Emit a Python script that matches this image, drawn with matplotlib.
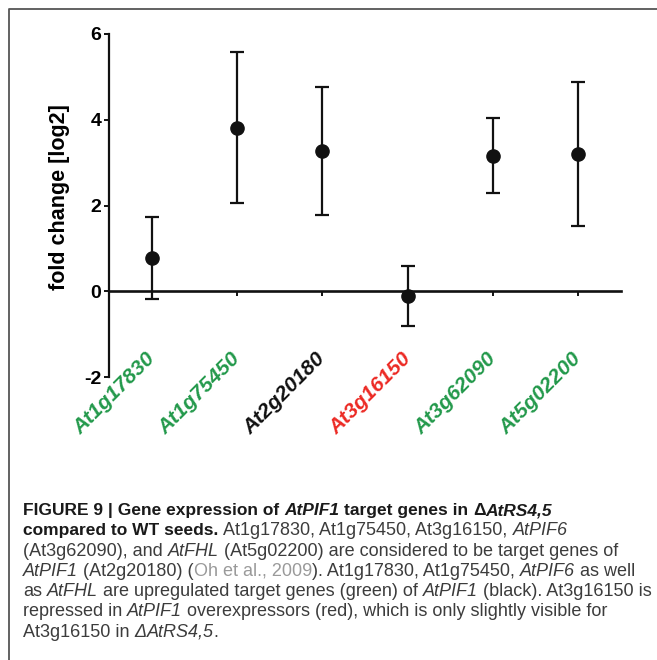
import matplotlib
matplotlib.use("Agg")
import matplotlib.pyplot as plt
import matplotlib.transforms as mtransforms
from matplotlib.lines import Line2D
import numpy as np

plt.rcParams["font.family"] = ["Liberation Sans", "DejaVu Sans"]

# Data
genes = ["At1g17830", "At1g75450", "At2g20180", "At3g16150", "At3g62090", "At5g02200"]
fold_change = [0.77, 3.81, 3.27, -0.11, 3.16, 3.20]
fold_err = [0.96, 1.76, 1.50, 0.71, 0.87, 1.68]
label_colors = ["#23994b", "#23994b", "#111111", "#ec2a24", "#23994b", "#23994b"]
y_ticks = [-2, 0, 2, 4, 6]

# Caption: one list of (text, style) runs per line
caption_lines = [
    [("FIGURE 9 | Gene expression of ", "b"), ("AtPIF1", "bi"),
     (" target genes in ", "b"), ("\u0394", "b"), ("AtRS4,5", "bi")],
    [("compared to WT seeds.", "b"), (" At1g17830, At1g75450, At3g16150, ", "r"),
     ("AtPIF6", "i")],
    [("(At3g62090), and ", "r"), ("AtFHL", "i"),
     (" (At5g02200) are considered to be target genes of", "r")],
    [("AtPIF1", "i"), (" (At2g20180) (", "r"), ("Oh et al., 2009", "link"),
     ("). At1g17830, At1g75450, ", "r"), ("AtPIF6", "i"), (" as well", "r")],
    [("as ", "r"), ("AtFHL", "i"), (" are upregulated target genes (green) of ", "r"),
     ("AtPIF1", "i"), (" (black). At3g16150 is", "r")],
    [("repressed in ", "r"), ("AtPIF1", "i"),
     (" overexpressors (red), which is only slightly visible for", "r")],
    [("At3g16150 in ", "r"), ("\u0394", "i"), ("AtRS4,5", "i"), (".", "r")],
]

STYLES = {
    "b": dict(fontweight="bold", color="#1a1a1a", fontsize=12.5),
    "bi": dict(fontweight="bold", fontstyle="italic", color="#1a1a1a", fontsize=12.5),
    "r": dict(color="#3c3c3c", fontsize=13.0),
    "i": dict(fontstyle="italic", color="#3c3c3c", fontsize=13.0),
    "link": dict(color="#9a9a9a", fontsize=13.0),
}

W, H = 657, 660
fig = plt.figure(figsize=(W / 100, H / 100), dpi=100)

# frame (only top and left edges visible in the crop)
fig.add_artist(Line2D([8.5 / W, 8.5 / W, 1.0], [0.0, 1 - 9 / H, 1 - 9 / H],
                      transform=fig.transFigure, color="#555555", lw=1.3))

ax = fig.add_axes([109 / W, 1 - 377 / H, 512 / W, 343 / H])
x = np.arange(1, len(genes) + 1)
ax.errorbar(x, fold_change, yerr=fold_err, fmt="o", color="#111111",
            ms=9.5, elinewidth=1.6, capsize=4.8, capthick=1.6)

ax.set_xlim(0.5, len(genes) + 0.5)
ax.set_ylim(y_ticks[0], y_ticks[-1])
ax.spines["top"].set_visible(False)
ax.spines["right"].set_visible(False)
ax.spines["bottom"].set_position(("data", 0))
ax.spines["bottom"].set_linewidth(1.9)
ax.spines["left"].set_linewidth(1.6)
ax.spines["left"].set_color("#111111")
ax.spines["bottom"].set_color("#111111")

ax.set_xticks(x)
ax.set_xticklabels([])
ax.tick_params(axis="x", direction="out", length=3.5, width=1.4, color="#111111")
ax.set_yticks(y_ticks)
ax.set_yticklabels([str(v) for v in y_ticks], fontsize=14, fontweight="bold")
ax.tick_params(axis="y", direction="out", length=3.5, width=1.4, pad=2, color="#111111")

ax.set_ylabel("fold change [log2]", fontsize=15.5, fontweight="bold")
ax.yaxis.set_label_coords(-0.077, 0.525)

# rotated gene labels under the axis
lab_trans = mtransforms.blended_transform_factory(ax.transData, ax.transAxes) + \
    mtransforms.ScaledTranslation(5 / 72, 0, fig.dpi_scale_trans)
for xi, g, c in zip(x, genes, label_colors):
    ax.text(xi, 0.08, g, rotation=45, ha="right", va="top", color=c,
            fontsize=15.3, fontweight="bold", fontstyle="italic",
            transform=lab_trans)

# caption built from styled runs
renderer = fig.canvas.get_renderer()


def measure(s, props):
    t = fig.text(0, 0, s, **props)
    w = t.get_window_extent(renderer).width
    t.remove()
    return w


def advance(s, props):
    # width between two bars, so spaces and italic overhang are handled
    return measure("|" + s + "|", props) - measure("||", props)


line_step = 20.3
base_y = 515
for k, runs in enumerate(caption_lines):
    xp = 23.0
    yp = base_y + k * line_step
    for text, style in runs:
        props = STYLES[style]
        lead = text[: len(text) - len(text.lstrip(" "))]
        core = text.strip(" ")
        xp += advance(lead, props) if lead else 0
        if core:
            fig.text(xp / W, 1 - yp / H, core, va="baseline", ha="left", **props)
        xp += advance(text[len(lead):], props)

fig.savefig("out.png", dpi=100)
